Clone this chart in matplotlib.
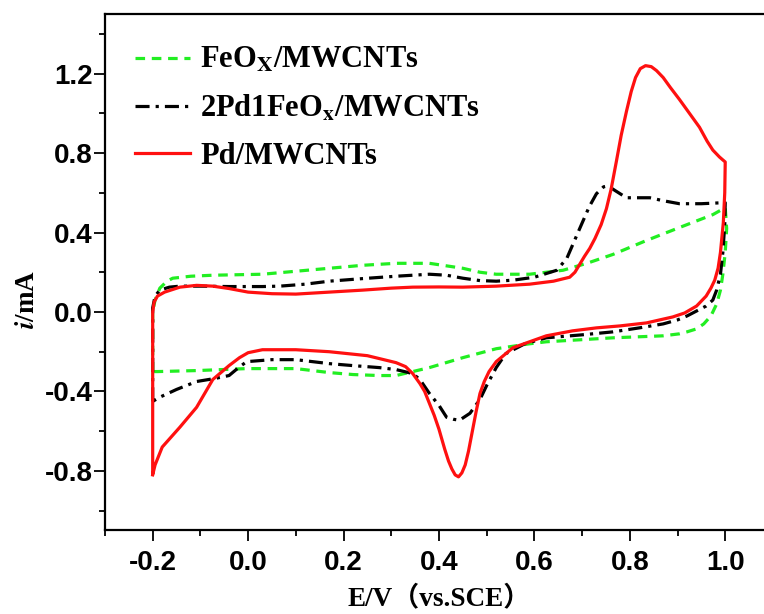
#Cyclic voltammograms of the three catalysts

import numpy as np
import matplotlib
matplotlib.use('Agg')
import matplotlib.pyplot as plt
from matplotlib.ticker import MultipleLocator

plt.rcParams['mathtext.fontset'] = 'stix'
plt.rcParams['axes.unicode_minus'] = False

#FeOx/MWCNTs - forward scan then reverse scan
fe_x = [-0.2, -0.2, -0.195, -0.185, -0.17, -0.158, -0.12, -0.074, 0.03, 0.10, 0.17, 0.24, 0.31, 0.38, 0.45,
        0.486, 0.52, 0.59, 0.66, 0.71, 0.765, 0.835, 0.904, 0.974, 1.0,
        1.003, 1.0, 0.995, 0.99, 0.982, 0.97, 0.955, 0.94, 0.92, 0.904, 0.87, 0.765, 0.625, 0.59, 0.52, 0.45,
        0.38, 0.31, 0.275, 0.22, 0.17, 0.10, -0.003, -0.108, -0.19, -0.2]
fe_y = [-0.30, 0.0, 0.06, 0.12, 0.155, 0.17, 0.18, 0.185, 0.19, 0.205, 0.22, 0.235, 0.245, 0.245, 0.22,
        0.2, 0.19, 0.19, 0.21, 0.245, 0.29, 0.36, 0.425, 0.49, 0.525,
        0.42, 0.3, 0.19, 0.11, 0.04, -0.02, -0.06, -0.085, -0.10, -0.11, -0.12, -0.13, -0.15, -0.16, -0.185, -0.23,
        -0.28, -0.32, -0.32, -0.315, -0.305, -0.285, -0.285, -0.295, -0.30, -0.30]

#2Pd1FeOx/MWCNTs
pdfe_x = [-0.2, -0.2, -0.195, -0.185, -0.165, -0.143, -0.1, -0.04, 0.03, 0.066, 0.12, 0.17, 0.24, 0.31, 0.38,
          0.416, 0.45, 0.486, 0.52, 0.555, 0.60, 0.647, 0.668, 0.695, 0.715, 0.73, 0.745, 0.754, 0.77, 0.793,
          0.82, 0.842, 0.87, 0.904, 0.95, 0.995, 1.0,
          0.999, 0.995, 0.99, 0.982, 0.974, 0.96, 0.94, 0.92, 0.9, 0.87, 0.82, 0.765, 0.7, 0.625, 0.58, 0.54,
          0.52, 0.50, 0.486, 0.465, 0.443, 0.43, 0.416, 0.40, 0.38, 0.36, 0.345, 0.31, 0.275, 0.22, 0.17, 0.10,
          0.05, -0.003, -0.02, -0.04, -0.07, -0.108, -0.15, -0.186, -0.2]
pdfe_y = [-0.45, 0.02, 0.08, 0.11, 0.125, 0.13, 0.13, 0.128, 0.128, 0.13, 0.14, 0.155, 0.168, 0.18, 0.19,
          0.185, 0.17, 0.158, 0.155, 0.16, 0.175, 0.21, 0.27, 0.42, 0.53, 0.595, 0.63, 0.635, 0.61, 0.575,
          0.575, 0.575, 0.56, 0.545, 0.545, 0.55, 0.55,
          0.44, 0.3, 0.19, 0.11, 0.06, 0.03, 0.005, -0.02, -0.04, -0.06, -0.08, -0.10, -0.115, -0.13, -0.16, -0.21,
          -0.28, -0.37, -0.44, -0.51, -0.545, -0.54, -0.53, -0.47, -0.41, -0.34, -0.31, -0.29, -0.28, -0.27, -0.26,
          -0.24, -0.24, -0.25, -0.28, -0.32, -0.335, -0.35, -0.39, -0.43, -0.45]

#Pd/MWCNTs
pd_x = [-0.2, -0.2, -0.197, -0.19, -0.175, -0.143, -0.108, -0.074, -0.04, 0.0, 0.05, 0.10, 0.17, 0.24, 0.30,
        0.345, 0.40, 0.45, 0.52, 0.59, 0.64, 0.674, 0.685, 0.695, 0.705, 0.716, 0.727, 0.74, 0.751, 0.761,
        0.772, 0.782, 0.793, 0.803, 0.812, 0.822, 0.833, 0.845, 0.856, 0.87, 0.885, 0.904, 0.925, 0.946, 0.962,
        0.974, 0.988, 1.0,
        0.999, 0.996, 0.99, 0.985, 0.978, 0.97, 0.96, 0.94, 0.915, 0.89, 0.835, 0.78, 0.73, 0.68, 0.625, 0.59,
        0.555, 0.52, 0.505, 0.495, 0.486, 0.478, 0.47, 0.462, 0.455, 0.448, 0.441, 0.434, 0.427, 0.42, 0.412,
        0.40, 0.39, 0.38, 0.37, 0.36, 0.345, 0.33, 0.31, 0.25, 0.17, 0.10, 0.03, 0.0, -0.018, -0.04, -0.074,
        -0.108, -0.143, -0.18, -0.195, -0.2]
pd_y = [-0.81, 0.0, 0.05, 0.08, 0.10, 0.125, 0.134, 0.13, 0.118, 0.10, 0.092, 0.09, 0.10, 0.11, 0.12,
        0.125, 0.126, 0.125, 0.13, 0.14, 0.155, 0.175, 0.20, 0.24, 0.28, 0.32, 0.37, 0.44, 0.52, 0.62,
        0.76, 0.89, 1.01, 1.11, 1.18, 1.225, 1.24, 1.235, 1.215, 1.18, 1.13, 1.07, 1.0, 0.93, 0.86,
        0.815, 0.78, 0.755,
        0.6, 0.45, 0.3, 0.22, 0.16, 0.12, 0.08, 0.03, -0.005, -0.025, -0.055, -0.07, -0.08, -0.095, -0.12, -0.15,
        -0.18, -0.25, -0.30, -0.35, -0.41, -0.50, -0.60, -0.70, -0.77, -0.81, -0.83, -0.82, -0.79, -0.75, -0.69,
        -0.59, -0.52, -0.46, -0.40, -0.36, -0.31, -0.275, -0.255, -0.22, -0.20, -0.19, -0.19, -0.205, -0.23, -0.27, -0.34,
        -0.48, -0.58, -0.68, -0.77, -0.82]

fig = plt.figure(figsize=(7.64, 6.14), dpi=100)
ax = fig.add_axes([0.1374, 0.136, 0.8743, 0.8412])

ax.plot(fe_x, fe_y, color='#22ee22', lw=2.3, dashes=(3, 2.1), label=r'FeO$_\mathbf{X}$/MWCNTs')
ax.plot(pdfe_x, pdfe_y, color='black', lw=2.3, dashes=(4.4, 1.9, 1, 1.9), label=r'2Pd1FeO$_\mathbf{x}$/MWCNTs')
ax.plot(pd_x, pd_y, color='#ff1010', lw=2.3, label='Pd/MWCNTs')

ax.set_xlim(-0.3, 1.1)
ax.set_ylim(-1.1, 1.5)
ax.xaxis.set_minor_locator(MultipleLocator(0.1))
ax.yaxis.set_minor_locator(MultipleLocator(0.2))
ax.set_xticks([-0.2, 0.0, 0.2, 0.4, 0.6, 0.8, 1.0])
ax.set_yticks([-0.8, -0.4, 0.0, 0.4, 0.8, 1.2])
ax.tick_params(which='major', direction='out', length=8, width=1.3, pad=6)
ax.tick_params(which='minor', direction='out', length=4.5, width=1.3)
ax.tick_params(axis='y', which='major', pad=1)
for lab in ax.get_xticklabels() + ax.get_yticklabels():
    lab.set_fontfamily('Liberation Sans')
    lab.set_fontweight('bold')
    lab.set_fontsize(20)
for sp in ax.spines.values():
    sp.set_linewidth(1.6)

ax.set_xlabel('E/V（vs.SCE）', fontsize=19.5, fontweight='bold',
              family=['Liberation Serif', 'Noto Sans CJK SC'], labelpad=7)
ax.set_ylabel(r'$\mathbfit{i}$/mA', fontsize=19.5, fontweight='bold', family='Liberation Serif')
ax.yaxis.set_label_coords(-0.097, 0.448)

leg = ax.legend(loc='upper left', frameon=False, handlelength=1.8, handletextpad=0.33,
                labelspacing=0.6, borderpad=0, borderaxespad=0, bbox_to_anchor=(0.045, 0.938),
                prop={'family': 'Liberation Serif', 'weight': 'bold', 'size': 22})

fig.savefig('out.png', dpi=100)
